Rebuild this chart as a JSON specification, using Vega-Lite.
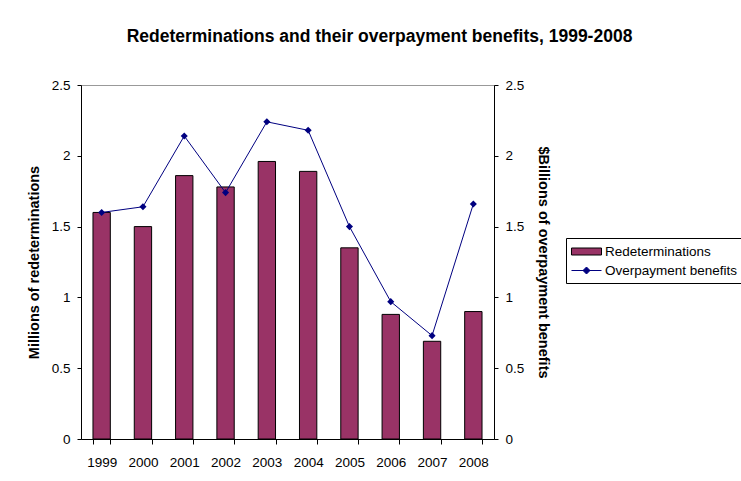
{
  "$schema": "https://vega.github.io/schema/vega-lite/v6.json",
  "autosize": "none",
  "width": 413,
  "height": 354,
  "padding": {"left": 81, "top": 85, "right": 247, "bottom": 42},
  "background": "white",
  "config": {
    "font": "Liberation Sans",
    "view": {"stroke": "#999999", "strokeWidth": 1},
    "axis": {
      "domainColor": "black",
      "tickColor": "black",
      "labelColor": "black",
      "titleColor": "black",
      "labelFontSize": 13.5,
      "titleFontSize": 14.5,
      "titleFontWeight": "bold",
      "grid": false,
      "tickSize": 4,
      "domainWidth": 1,
      "tickWidth": 1
    }
  },
  "title": {
    "text": "Redeterminations and their overpayment benefits, 1999-2008",
    "fontSize": 17.5,
    "fontWeight": "bold",
    "color": "black",
    "anchor": "middle",
    "dx": 92,
    "offset": 33
  },
  "data": {
    "values": [
      {"year": "1999", "Redeterminations": 1.60, "Overpayment benefits": 1.60},
      {"year": "2000", "Redeterminations": 1.50, "Overpayment benefits": 1.64},
      {"year": "2001", "Redeterminations": 1.86, "Overpayment benefits": 2.14},
      {"year": "2002", "Redeterminations": 1.78, "Overpayment benefits": 1.74},
      {"year": "2003", "Redeterminations": 1.96, "Overpayment benefits": 2.24},
      {"year": "2004", "Redeterminations": 1.89, "Overpayment benefits": 2.18},
      {"year": "2005", "Redeterminations": 1.35, "Overpayment benefits": 1.50},
      {"year": "2006", "Redeterminations": 0.88, "Overpayment benefits": 0.97},
      {"year": "2007", "Redeterminations": 0.69, "Overpayment benefits": 0.73},
      {"year": "2008", "Redeterminations": 0.90, "Overpayment benefits": 1.66}
    ]
  },
  "encoding": {
    "x": {
      "field": "year",
      "type": "ordinal",
      "scale": {"paddingInner": 0.58, "paddingOuter": 0.29},
      "axis": {
        "title": null,
        "labelAngle": 0,
        "tickBand": "extent",
        "tickSize": 5,
        "labelPadding": 11
      }
    }
  },
  "layer": [
    {
      "mark": {"type": "bar", "fill": "#993366", "stroke": "black", "strokeWidth": 1},
      "encoding": {
        "y": {
          "field": "Redeterminations",
          "type": "quantitative",
          "scale": {"domain": [0, 2.5]},
          "axis": {
            "orient": "left",
            "title": "Millions of redeterminations",
            "values": [0, 0.5, 1, 1.5, 2, 2.5],
            "format": "~g",
            "tickSize": 4,
            "labelPadding": 7,
            "titlePadding": 10
          }
        }
      }
    },
    {
      "encoding": {
        "y": {
          "field": "Overpayment benefits",
          "type": "quantitative",
          "scale": {"domain": [0, 2.5]},
          "axis": {
            "orient": "right",
            "title": "$Billions of overpayment benefits",
            "values": [0, 0.5, 1, 1.5, 2, 2.5],
            "format": "~g",
            "tickSize": 4,
            "labelPadding": 7,
            "titlePadding": 12
          }
        }
      },
      "layer": [
        {"mark": {"type": "line", "stroke": "#000080", "strokeWidth": 1}},
        {"mark": {"type": "point", "shape": "diamond", "filled": true, "fill": "#000080", "size": 50, "opacity": 1}},
        {
          "transform": [
            {"filter": "datum.year == '1999'"},
            {"fold": ["Redeterminations", "Overpayment benefits"], "as": ["series", "v"]}
          ],
          "mark": {"type": "point", "filled": true, "opacity": 0, "strokeWidth": 1},
          "encoding": {
            "y": {"field": "v", "type": "quantitative"},
            "shape": {
              "field": "series",
              "type": "nominal",
              "scale": {
                "domain": ["Redeterminations", "Overpayment benefits"],
                "range": ["M-2.143,-0.5H2.143V0.5H-2.143Z", "M-2.143,0H2.143M0,-0.5L0.5,0L0,0.5L-0.5,0Z"]
              },
              "legend": {
                "title": null,
                "orient": "none",
                "legendX": 485,
                "legendY": 153,
                "padding": 6,
                "strokeColor": "black",
                "fillColor": "white",
                "labelFontSize": 13.5,
                "labelColor": "black",
                "labelOffset": 11,
                "symbolSize": 196,
                "symbolOffset": 7,
                "symbolOpacity": 1,
                "symbolStrokeWidth": 1,
                "rowPadding": 5,
                "labelLimit": 400
              }
            },
            "fill": {
              "field": "series",
              "type": "nominal",
              "scale": {
                "domain": ["Redeterminations", "Overpayment benefits"],
                "range": ["#993366", "#000080"]
              }
            },
            "stroke": {
              "field": "series",
              "type": "nominal",
              "scale": {
                "domain": ["Redeterminations", "Overpayment benefits"],
                "range": ["#000000", "#000080"]
              }
            }
          }
        }
      ]
    }
  ],
  "resolve": {"scale": {"y": "independent"}}
}
